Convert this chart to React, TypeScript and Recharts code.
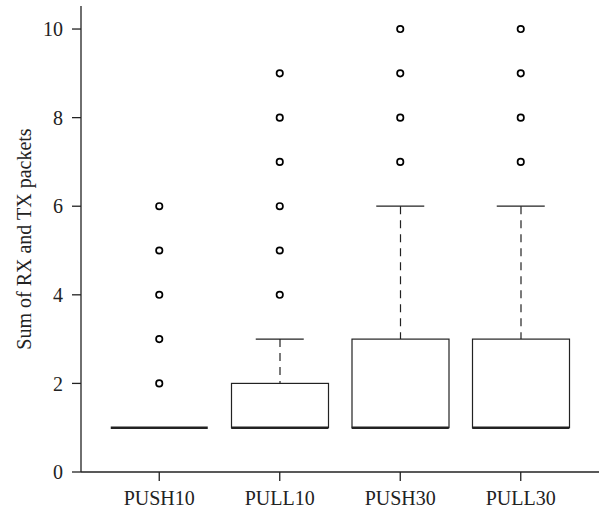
import React from 'react';
import { ComposedChart, Bar, Scatter, XAxis, YAxis } from 'recharts';

// box plot summary per group
const categories = ['PUSH10', 'PULL10', 'PUSH30', 'PULL30'];
const lowerWhisker = [1, 1, 1, 1];
const q1 = [1, 1, 1, 1];
const median = [1, 1, 1, 1];
const q3 = [1, 2, 3, 3];
const upperWhisker = [1, 3, 6, 6];
const outliers = [
  [2, 3, 4, 5, 6],
  [4, 5, 6, 7, 8, 9],
  [7, 8, 9, 10],
  [7, 8, 9, 10],
];
const yTicks = [0, 2, 4, 6, 8, 10];

const FONT = '"Liberation Serif", "DejaVu Serif", serif';
const INK = '#222';
const BOX_WIDTH = 97;
const CAP_WIDTH = 48;

const maxOutliers = Math.max(...outliers.map(o => o.length));
const outlierKeys = Array.from({ length: maxOutliers }, (_, k) => `o${k}`);

const data = categories.map((name, i) => {
  const row: any = {
    name,
    base: lowerWhisker[i],
    lowW: q1[i] - lowerWhisker[i],
    iqr: q3[i] - q1[i],
    upW: upperWhisker[i] - q3[i],
    median: median[i],
    lo: lowerWhisker[i],
    hi: upperWhisker[i],
  };
  outlierKeys.forEach((key, k) => {
    row[key] = outliers[i][k] ?? null;
  });
  return row;
});

const BoxShape = (props: any) => {
  const { x, y, width, height } = props;
  if (!height || height <= 0) return null;
  return <rect x={x} y={y} width={width} height={height} fill="#fff" stroke={INK} strokeWidth={1.2} />;
};

const WhiskerShape = (props: any) => {
  const { x, y, width, height } = props;
  if (!height || height <= 0) return null;
  const cx = x + width / 2;
  return <line x1={cx} x2={cx} y1={y} y2={y + height} stroke={INK} strokeWidth={1.2} strokeDasharray="8 6" />;
};

const hLine = (w: number, sw: number) => (props: any) => {
  const { cx, cy } = props;
  if (cx == null || cy == null || isNaN(cy)) return null;
  return <line x1={cx - w / 2} x2={cx + w / 2} y1={cy} y2={cy} stroke={INK} strokeWidth={sw} />;
};

const outlierShape = (key: string) => (props: any) => {
  const { cx, cy, payload } = props;
  if (payload == null || payload[key] == null) return null;
  return <circle cx={cx} cy={cy} r={3.2} fill="none" stroke="#000" strokeWidth={1.7} />;
};

const tickStyle = { fill: INK, fontSize: 20, fontFamily: FONT };

export default function App() {
  return (
    <div style={{ position: 'absolute', left: 0, top: 0, background: '#fff' }}>
      <ComposedChart width={601} height={509} data={data} margin={{ top: 6, right: 2, bottom: 0, left: 0 }}>
        <XAxis
          dataKey="name"
          type="category"
          interval={0}
          padding={{ left: 18, right: 18 }}
          height={37}
          tickSize={9}
          tickMargin={10}
          tick={tickStyle}
          tickLine={{ stroke: INK, strokeWidth: 1.3 }}
          axisLine={{ stroke: INK, strokeWidth: 1.3 }}
        />
        <XAxis
          xAxisId="top"
          dataKey="name"
          orientation="top"
          height={0}
          tick={false}
          tickLine={false}
          axisLine={{ stroke: INK, strokeWidth: 1.3 }}
        />
        <YAxis
          domain={[0, 10.52]}
          allowDataOverflow
          ticks={yTicks}
          width={81}
          tickSize={9}
          tickMargin={9}
          tick={tickStyle}
          tickLine={{ stroke: INK, strokeWidth: 1.3 }}
          axisLine={{ stroke: INK, strokeWidth: 1.3 }}
          label={{
            value: 'Sum of RX and TX packets',
            angle: -90,
            position: 'insideLeft',
            offset: 24,
            style: { textAnchor: 'middle', fill: INK, fontSize: 20, fontFamily: FONT },
          }}
        />
        <YAxis
          yAxisId="right"
          orientation="right"
          width={0}
          domain={[0, 10.52]}
          tick={false}
          tickLine={false}
          axisLine={{ stroke: INK, strokeWidth: 1.3 }}
        />

        <Bar dataKey="base" stackId="box" barSize={BOX_WIDTH} fill="none" isAnimationActive={false} />
        <Bar dataKey="lowW" stackId="box" barSize={BOX_WIDTH} shape={WhiskerShape} isAnimationActive={false} />
        <Bar dataKey="iqr" stackId="box" barSize={BOX_WIDTH} shape={BoxShape} isAnimationActive={false} />
        <Bar dataKey="upW" stackId="box" barSize={BOX_WIDTH} shape={WhiskerShape} isAnimationActive={false} />

        <Scatter dataKey="hi" shape={hLine(CAP_WIDTH, 1.3)} isAnimationActive={false} />
        <Scatter dataKey="lo" shape={hLine(CAP_WIDTH, 1.3)} isAnimationActive={false} />
        <Scatter dataKey="median" shape={hLine(BOX_WIDTH, 2.5)} isAnimationActive={false} />

        {outlierKeys.map(key => (
          <Scatter key={key} dataKey={key} shape={outlierShape(key)} isAnimationActive={false} />
        ))}
      </ComposedChart>
    </div>
  );
}
